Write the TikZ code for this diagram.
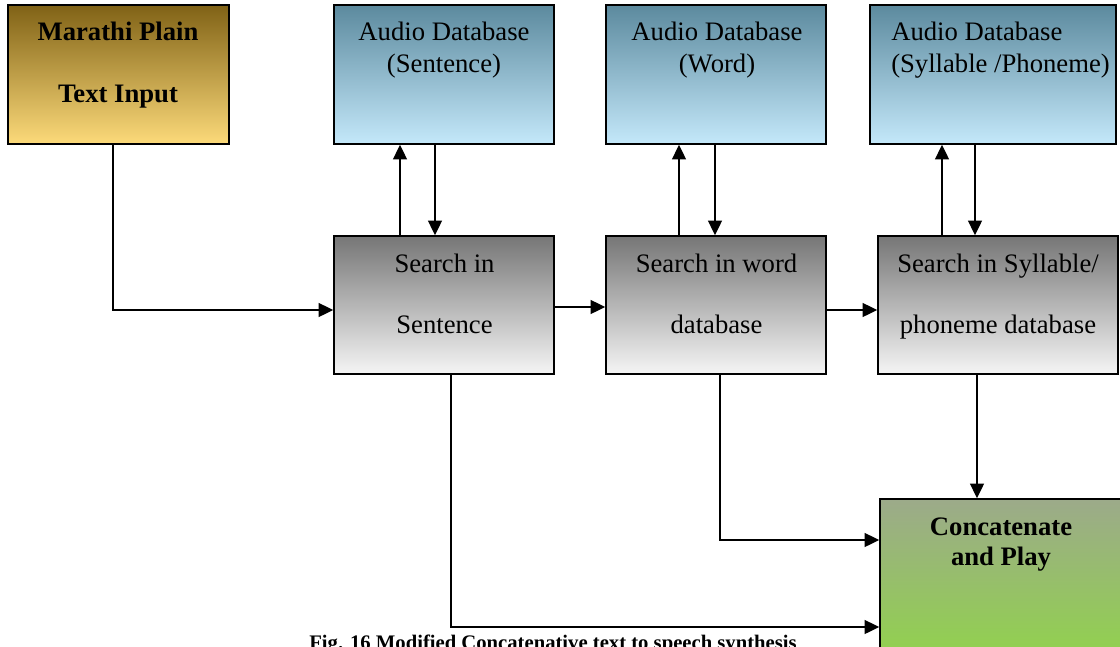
\documentclass[tikz,border=0pt]{standalone}
\usepackage{fontspec}
\setmainfont{Liberation Serif}
\usetikzlibrary{arrows.meta}

\definecolor{goldtop}{RGB}{128,98,22}
\definecolor{goldbot}{RGB}{252,218,122}
\definecolor{bluetop}{RGB}{92,138,158}
\definecolor{bluebot}{RGB}{196,232,250}
\definecolor{greytop}{RGB}{118,118,118}
\definecolor{greybot}{RGB}{245,245,245}
\definecolor{greentop}{RGB}{156,170,138}
\definecolor{greenbot}{RGB}{146,208,80}

\tikzset{
  box/.style={draw=black, line width=1.2pt, rectangle, inner sep=0pt},
  goldbox/.style={box, top color=goldtop, bottom color=goldbot},
  bluebox/.style={box, top color=bluetop, bottom color=bluebot},
  greybox/.style={box, top color=greytop, bottom color=greybot},
  greenbox/.style={box, top color=greentop, bottom color=greenbot},
  txt/.style={inner sep=0pt, anchor=north, align=center, font=\fontsize{20}{24}\selectfont},
  boldtxt/.style={txt, font=\fontsize{20}{24}\selectfont\bfseries},
  arr/.style={line width=1.1pt, -{Triangle[length=11pt,width=10.5pt]}},
}

\begin{document}
\begin{tikzpicture}[x=0.75pt, y=-0.75pt]
\useasboundingbox (0,0) rectangle (1120,646);
\clip (0,0) rectangle (1120,646);

% input box
\node[goldbox, minimum width=165.75pt, minimum height=104.25pt] (mar) at (118.5,74.5) {};
\node[boldtxt] (martxt) at (118,17.6) {\strut Marathi Plain\\[22.5pt]\strut Text Input};

% audio databases
\node[bluebox, minimum width=165pt, minimum height=104.25pt] (aus) at (444,74.5) {};
\node[txt] (austxt) at (444,17.6) {\strut Audio Database\\\strut(Sentence)};

\node[bluebox, minimum width=165pt, minimum height=104.25pt] (auw) at (716,74.5) {};
\node[txt] (auwtxt) at (717,17.6) {\strut Audio Database\\\strut(Word)};

\node[bluebox, minimum width=184.5pt, minimum height=104.25pt] (auy) at (993,74.5) {};
\node[txt, anchor=north west, align=left] (auytxt) at (891,17.6) {\strut Audio Database\\\strut(Syllable /Phoneme)};

% search stages
\node[greybox, minimum width=165pt, minimum height=103.5pt] (ss) at (444,305) {};
\node[txt] (sstxt) at (444.5,249.6) {\strut Search in\\[21.75pt]\strut Sentence};

\node[greybox, minimum width=165pt, minimum height=103.5pt] (sw) at (716,305) {};
\node[txt] (swtxt) at (716.5,249.6) {\strut Search in word\\[21.75pt]\strut database};

\node[greybox, minimum width=180pt, minimum height=103.5pt] (sy) at (998,305) {};
\node[txt] (sytxt) at (998,249.6) {\strut Search in Syllable/\\[21.75pt]\strut phoneme database};

% output box
\node[greenbox, minimum width=184.5pt, minimum height=113.25pt] (cp) at (1003,574.5) {};
\node[boldtxt] (cptxt) at (1001,512.6) {\strut Concatenate\\[-1.5pt]\strut and Play};

% connectors
\draw[arr] ([xshift=-4.125pt]mar.south) |- ([yshift=-3.75pt]ss.west);

\draw[arr] ([xshift=-33pt]ss.north) -- ([xshift=-33pt]aus.south);
\draw[arr] ([xshift=-6.75pt]aus.south) -- ([xshift=-6.75pt]ss.north);

\draw[arr] ([yshift=-1.5pt]ss.east) -- ([yshift=-1.5pt]ss.east -| sw.west);

\draw[arr] ([xshift=-27.75pt]sw.north) -- ([xshift=-27.75pt]auw.south);
\draw[arr] ([xshift=-0.75pt]auw.south) -- ([xshift=-0.75pt]sw.north);

\draw[arr] ([yshift=-3.75pt]sw.east) -- ([yshift=-3.75pt]sw.east -| sy.west);

\draw[arr] ([xshift=-42pt]sy.north) -- ([xshift=-42pt]sy.north |- auy.south);
\draw[arr] ([xshift=-17.25pt]sy.north |- auy.south) -- ([xshift=-17.25pt]sy.north);

\draw[arr] ([xshift=-15.75pt]sy.south) -- ([xshift=-15.75pt]sy.south |- cp.north);
\draw[arr] ([xshift=3pt]sw.south) |- ([yshift=25.875pt]cp.west);
\draw[arr] ([xshift=5.25pt]ss.south) |- ([yshift=-39.375pt]cp.west);

% caption
\node[inner sep=0pt, anchor=base, font=\fontsize{15.5}{18}\selectfont\bfseries] (cap) at (553,649)
  {Fig. 16 Modified Concatenative text to speech synthesis};
\end{tikzpicture}
\end{document}
